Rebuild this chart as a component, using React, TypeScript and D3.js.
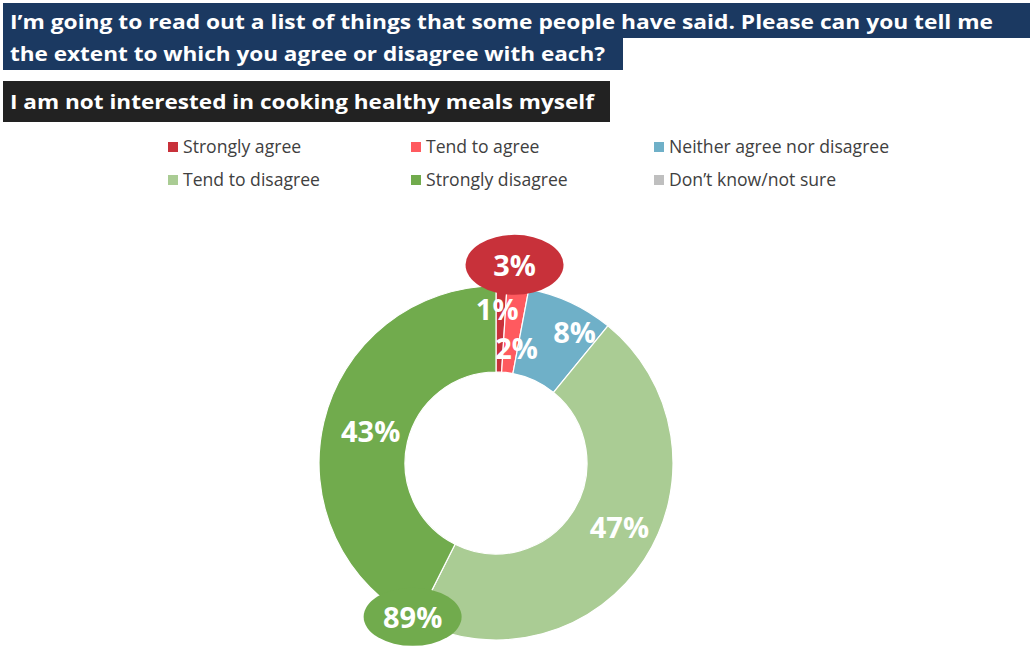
import React from "react";
import * as d3 from "d3";

const categories = [
  "Strongly agree",
  "Tend to agree",
  "Neither agree nor disagree",
  "Tend to disagree",
  "Strongly disagree",
  "Don\u2019t know/not sure",
];
const values = [1, 2, 8, 47, 43, 0];
const colors = ["#C8313A", "#FF5A5F", "#6FB0C8", "#AACC94", "#71AB4D", "#BFBFBF"];
const netAgree = 3;
const netDisagree = 89;

const titleLines = [
  "I\u2019m going to read out a list of things that some people have said. Please can you tell me",
  "the extent to which you agree or disagree with each?",
];
const subtitle = "I am not interested in cooking healthy meals myself";

// label nudges (px) relative to arc centroid, per category
const labelNudge: [number, number][] = [
  [-3, -21],
  [4, 17],
  [22, -10],
  [11, -9],
  [5, -2],
  [0, 0],
];

const FONT = "'Segoe UI', 'Open Sans', 'Noto Sans', sans-serif";

export default function App() {
  const W = 1030;
  const H = 649;
  const cx = 496;
  const cy = 463;
  const rOuter = 177;
  const rInner = 91;

  const pie = d3
    .pie<number>()
    .value((d) => d)
    .sort(null)
    .startAngle(0)
    .endAngle(2 * Math.PI);
  const arcs = pie(values);
  const arcGen = d3.arc<d3.PieArcDatum<number>>().innerRadius(rInner).outerRadius(rOuter);

  const polar = (angle: number, r: number): [number, number] => [
    cx + r * Math.sin(angle),
    cy - r * Math.cos(angle),
  ];

  // callout positions
  const agreeMid = (arcs[0].startAngle + arcs[1].endAngle) / 2;
  const [ax, ay] = polar(agreeMid, 199);
  const disBoundary = arcs[3].endAngle + 0.03;
  const [bx, by] = polar(disBoundary, 175);

  const legendCols = [168, 411, 654];
  const legendRows = [147, 180];

  return (
    <svg
      width={W}
      height={H}
      style={{ position: "absolute", left: 0, top: 0, background: "#fff" }}
      fontFamily={FONT}
    >
      {/* title */}
      <rect x={3} y={3} width={1027} height={35} fill="#1B3961" />
      <rect x={3} y={37} width={620} height={33} fill="#1B3961" />
      <text x={10} y={29} fill="#fff" fontSize={20} fontWeight={700} textLength={983} lengthAdjust="spacingAndGlyphs">
        {titleLines[0]}
      </text>
      <text x={10} y={61} fill="#fff" fontSize={20} fontWeight={700} textLength={595} lengthAdjust="spacingAndGlyphs">
        {titleLines[1]}
      </text>
      <rect x={3} y={81} width={607} height={41} fill="#222222" />
      <text x={10} y={109} fill="#fff" fontSize={20} fontWeight={700} textLength={584} lengthAdjust="spacingAndGlyphs">
        {subtitle}
      </text>

      {/* legend */}
      {categories.map((c, i) => {
        const col = i % 3;
        const row = Math.floor(i / 3);
        const x = legendCols[col];
        const y = legendRows[row];
        return (
          <g key={c}>
            <rect x={x} y={y - 5} width={10} height={10} fill={colors[i]} />
            <text x={x + 15} y={y + 6} fontSize={17.6} fill="#404040">
              {c}
            </text>
          </g>
        );
      })}

      {/* donut */}
      <g transform={`translate(${cx},${cy})`}>
        {arcs.map((a, i) =>
          a.value > 0 ? (
            <path key={i} d={arcGen(a) || ""} fill={colors[i]} stroke="#fff" strokeWidth={1.2} />
          ) : null
        )}
      </g>
      {arcs.map((a, i) => {
        if (a.value <= 0) return null;
        const [x, y] = arcGen.centroid(a);
        return (
          <text
            key={"l" + i}
            x={cx + x + labelNudge[i][0]}
            y={cy + y + labelNudge[i][1]}
            textAnchor="middle"
            dominantBaseline="central"
            fill="#fff"
            fontSize={29}
            fontWeight={700}
          >
            {a.value}%
          </text>
        );
      })}

      {/* callouts */}
      <ellipse cx={ax} cy={ay} rx={49} ry={30} fill="#C8313A" />
      <text x={ax} y={ay} textAnchor="middle" dominantBaseline="central" fill="#fff" fontSize={29} fontWeight={700}>
        {netAgree}%
      </text>
      <ellipse cx={bx} cy={by} rx={49} ry={29} fill="#71AB4D" />
      <text x={bx} y={by} textAnchor="middle" dominantBaseline="central" fill="#fff" fontSize={29} fontWeight={700}>
        {netDisagree}%
      </text>
    </svg>
  );
}
